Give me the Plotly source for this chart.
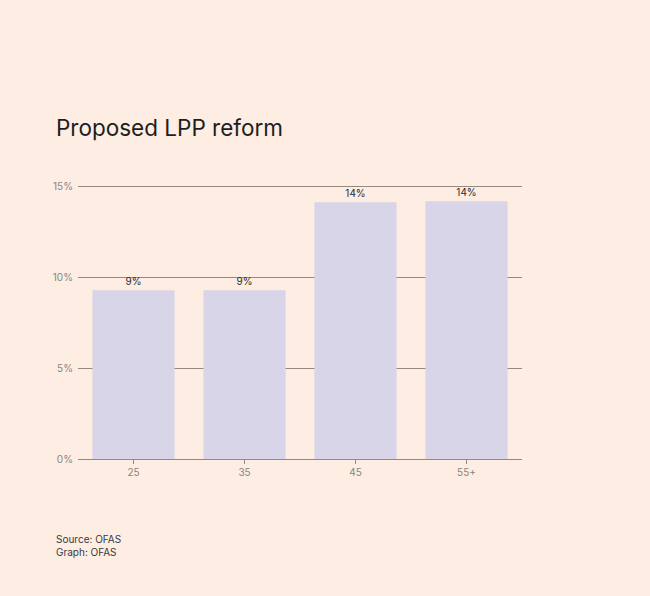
import plotly.graph_objects as go

ages = ["25", "35", "45", "55+"]
rates = [9.3, 9.3, 14.15, 14.2]
y_ticks = [0, 5, 10, 15]
y_tick_text = ["0%", "5%", "10%", "15%"]

bg = "#fdede2"

fig = go.Figure(go.Bar(
    x=ages,
    y=rates,
    marker=dict(color="#d8d5e8", line=dict(width=0)),
    texttemplate="%{y:.0f}%",
    textposition="outside",
    textfont=dict(size=10, color="#2b2b2b"),
    cliponaxis=False,
    hoverinfo="skip",
))

fig.update_layout(
    width=650, height=596,
    paper_bgcolor=bg, plot_bgcolor=bg,
    font=dict(family="Inter, sans-serif"),
    margin=dict(l=78, r=128, t=184, b=137),
    bargap=0.26,
    showlegend=False,
    title=dict(text="Proposed LPP reform", xref="container", x=56 / 650, xanchor="left",
               yref="container", y=1 - 128 / 596, yanchor="middle",
               font=dict(size=22.5, color="#1e1e1e")),
    annotations=[
        dict(text="Source: OFAS<br>Graph: OFAS", xref="paper", yref="paper",
             x=-24 / 444, y=-(531 - 459) / 275, xanchor="left", yanchor="top",
             align="left", showarrow=False,
             font=dict(size=10, color="#3a3a3a")),
    ],
)

fig.update_xaxes(
    showline=True, linecolor="#958a80", linewidth=1,
    ticks="outside", ticklen=4, tickcolor="#958a80",
    tickfont=dict(size=10, color="#8a8580"),
    showgrid=False,
)
fig.update_yaxes(
    range=[0, 15.15], tickvals=y_ticks, ticktext=y_tick_text,
    showgrid=True, gridcolor="#958a80", gridwidth=1,
    zeroline=False, showline=False,
    tickfont=dict(size=10, color="#8a8580"),
    ticklabelstandoff=4,
)

fig.write_html("out.html", config={"displayModeBar": False},
               post_script="document.body.style.margin='0';")
